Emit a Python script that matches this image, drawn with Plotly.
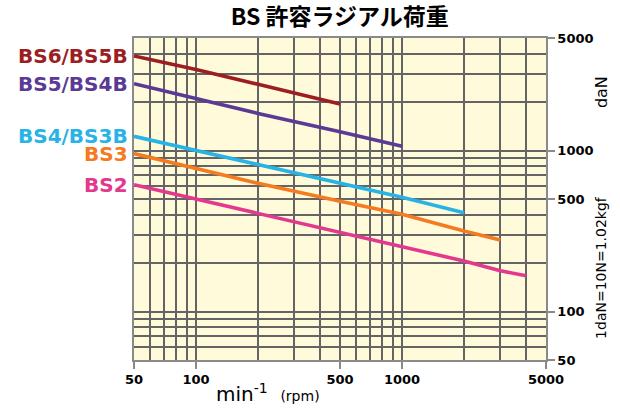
import plotly.graph_objects as go
import numpy as np

# ---- data ----
series_names = ["BS6/BS5B", "BS5/BS4B", "BS4/BS3B", "BS3", "BS2"]
series_colors = ["#9C1E22", "#5A3A95", "#27B3E6", "#F47B20", "#E4388E"]
rpm_bs6 = [50, 100, 200, 500]
load_bs6 = [3870, 3190, 2580, 1945]
rpm_bs5 = [50, 100, 200, 500, 1000]
load_bs5 = [2600, 2110, 1700, 1310, 1062]
rpm_bs4 = [50, 100, 200, 500, 1000, 2000]
load_bs4 = [1225, 1000, 813, 620, 512, 411]
rpm_bs3 = [50, 100, 200, 500, 1000, 2000, 3000]
load_bs3 = [957, 775, 626, 484, 402, 316, 278]
rpm_bs2 = [50, 100, 200, 500, 1000, 2000, 3000, 4000]
load_bs2 = [613, 500, 407, 313, 255, 206, 179, 167]

x_major = [50, 100, 500, 1000, 5000]
x_minor = [60, 70, 80, 90, 200, 300, 400, 600, 700, 800, 900, 2000, 3000, 4000]
y_major = [50, 100, 500, 1000, 5000]
y_minor = [60, 70, 80, 90, 200, 300, 400, 600, 700, 800, 900, 2000, 3000, 4000]

title_text = "BS 許容ラジアル荷重"
xtitle_text = "min<sup>-1</sup>&nbsp; <span style='font-size:14px'>(rpm)</span>"
unit_text = "daN"
conv_text = "1daN=10N=1.02kgf"

all_rpm = [rpm_bs6, rpm_bs5, rpm_bs4, rpm_bs3, rpm_bs2]
all_load = [load_bs6, load_bs5, load_bs4, load_bs3, load_bs2]

GRID = "#646464"
AX = "#8A8A8A"
TICKFONT = dict(family="DejaVu Sans", size=13, color="black", weight="bold")

fig = go.Figure()
for name, col, xs, ys in zip(series_names, series_colors, all_rpm, all_load):
    fig.add_trace(go.Scatter(x=xs, y=ys, mode="lines", name=name,
                             line=dict(color=col, width=3.6), showlegend=False,
                             hoverinfo="skip"))
    fig.add_annotation(text=f"<b>{name}</b>", xref="paper", x=0, y=np.log10(ys[0]),
                       yref="y", xanchor="right", yanchor="middle", xshift=-4,
                       showarrow=False,
                       font=dict(family="DejaVu Sans", size=20, color=col))

fig.add_annotation(text=xtitle_text, xref="paper", yref="paper", x=0.325, y=0,
                   xanchor="center", yanchor="middle", yshift=-33, showarrow=False,
                   font=dict(family="DejaVu Sans", size=20, color="black"))
fig.add_annotation(text=unit_text, xref="paper", yref="paper", x=1, y=0.832,
                   xanchor="center", yanchor="middle", xshift=55, showarrow=False,
                   textangle=-90, font=dict(family="DejaVu Sans", size=16, color="black"))
fig.add_annotation(text=conv_text, xref="paper", yref="paper", x=1, y=0.286,
                   xanchor="center", yanchor="middle", xshift=55, showarrow=False,
                   textangle=-90, font=dict(family="DejaVu Sans", size=14, color="black"))

fig.update_layout(
    width=620, height=408,
    margin=dict(l=134, r=74, t=38, b=48, autoexpand=False),
    paper_bgcolor="white", plot_bgcolor="#FFFBDA",
    title=dict(text=f"<b>{title_text}</b>", x=0.548, xanchor="center",
               y=1 - 17 / 408, yanchor="middle", yref="container",
               font=dict(family="Noto Sans CJK JP", size=23, color="black")),
)
fig.update_xaxes(type="log", range=[np.log10(50), np.log10(5000)],
                 tickvals=x_major, ticktext=[str(v) for v in x_major],
                 ticks="outside", ticklen=7, tickcolor=AX, tickwidth=1.5,
                 showgrid=True, gridcolor=GRID, gridwidth=1.5,
                 minor=dict(tickvals=x_minor, showgrid=True, gridcolor=GRID,
                            gridwidth=1.5, ticks=""),
                 showline=True, linecolor=AX, linewidth=1.5, mirror=True,
                 zeroline=False, tickfont=TICKFONT)
fig.update_yaxes(type="log", range=[np.log10(50), np.log10(5000)], side="right",
                 tickvals=y_major, ticktext=[str(v) for v in y_major],
                 ticks="outside", ticklen=7, tickcolor=AX, tickwidth=1.5,
                 showgrid=True, gridcolor=GRID, gridwidth=1.5,
                 minor=dict(tickvals=y_minor, showgrid=True, gridcolor=GRID,
                            gridwidth=1.5, ticks=""),
                 showline=True, linecolor=AX, linewidth=1.5, mirror=True,
                 zeroline=False, tickfont=TICKFONT)

fig.write_html("out.html", config={"displayModeBar": False},
               post_script="document.body.style.margin='0px';"
                           "document.body.style.overflow='hidden';")
